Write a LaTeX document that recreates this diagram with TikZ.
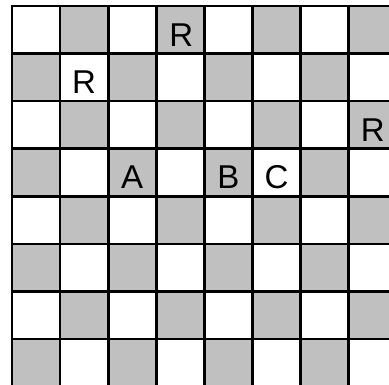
\documentclass[tikz,border=0pt]{standalone}
\usepackage{fontspec}
\setmainfont{Liberation Sans}
\definecolor{square}{HTML}{C0C0C0}
\tikzset{piece/.style={inner sep=0pt,font=\fontsize{33}{33}\selectfont}}

\begin{document}
\begin{tikzpicture}[x=1pt,y=-1pt]
\useasboundingbox (0,0) rectangle (389,385);
\clip (0,0) rectangle (389,385);
% Gray squares
\foreach \r in {1,...,8} {\foreach \c in {1,...,8} {
  \pgfmathtruncatemacro\s{\r+\c}
  \ifodd\s \fill[square] (12+\c*48.1-48.1,6+\r*47.6-47.6) rectangle (12+\c*48.1,6+\r*47.6); \fi
}}
% Grid lines
\foreach \i in {0,...,8} {\draw[line width=2.6pt,line cap=rect] (12+\i*48.1,6) -- (12+\i*48.1,400);}
\foreach \i in {0,...,8} {\draw[line width=2.6pt,line cap=rect] (12,6+\i*47.6) -- (400,6+\i*47.6);}
% Letters
\node[piece] (rookA) at (12+3.5*48.1+1,6+0.5*47.6+5) {R};
\node[piece] (rookB) at (12+1.5*48.1,6+1.5*47.6+5) {R};
\node[piece] (rookC) at (12+7.5*48.1,6+2.5*47.6+5) {R};
\node[piece] (markA) at (12+2.5*48.1,6+3.5*47.6+5) {A};
\node[piece] (markB) at (12+4.5*48.1,6+3.5*47.6+5) {B};
\node[piece] (markC) at (12+5.5*48.1,6+3.5*47.6+5) {C};
\end{tikzpicture}
\end{document}
